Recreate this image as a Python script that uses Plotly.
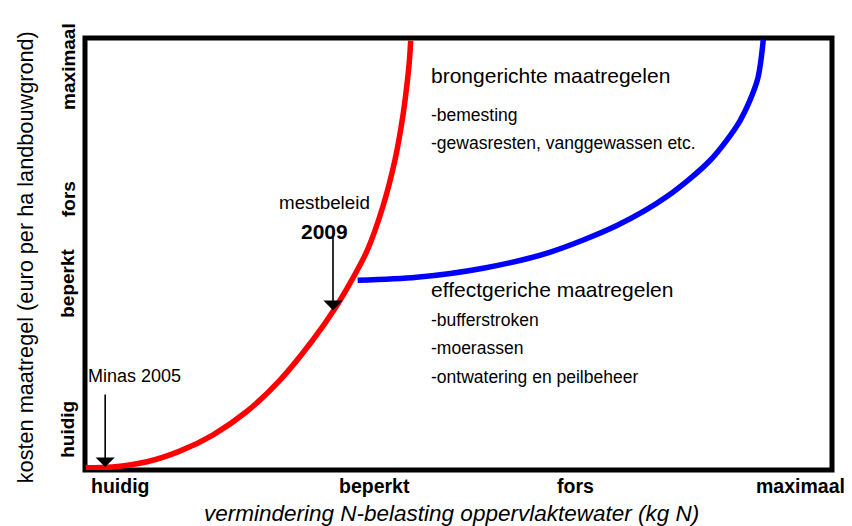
import plotly.graph_objects as go

# Curves (data units: x 0-100 = reduction of N load, y 0-100 = cost)
red_x = [0.1, 3.7, 8.3, 12.6, 17.1, 21.7, 26.1, 30.5, 33.5, 35.5, 37.8, 39.9, 41.5, 42.3, 42.8, 43.4, 43.6]
red_y = [0.5, 0.7, 1.9, 4.3, 8.1, 13.6, 20.8, 30.1, 37.5, 43.3, 50.9, 61.1, 71.8, 79.2, 85.0, 94.2, 99.4]
blue_x = [36.5, 44.4, 53.3, 62.2, 71.2, 77.9, 83.7, 87.7, 90.0, 90.8]
blue_y = [43.9, 44.6, 46.7, 50.4, 56.6, 63.3, 71.7, 80.9, 90.2, 99.6]

x_tick_labels = ["huidig", "beperkt", "fors", "maximaal"]
x_tick_pos = [4.7, 38.8, 65.7, 102.0]
y_tick_labels = ["huidig", "beperkt", "fors", "maximaal"]
y_tick_pos = [9.5, 43.3, 62.7, 93.5]

x_title = "vermindering N-belasting oppervlaktewater (kg N)"
y_title = "kosten maatregel (euro per ha landbouwgrond)"

bron_title = "brongerichte maatregelen"
bron_items = ["-bemesting", "-gewasresten, vanggewassen etc."]
bron_y = [91.4, 82.2, 75.7]
effect_title = "effectgeriche maatregelen"
effect_items = ["-bufferstroken", "-moerassen", "-ontwatering en peilbeheer"]
effect_y = [41.7, 34.7, 28.2, 21.5]
text_left = 46.1

FONT = "Arial, Liberation Sans, sans-serif"

fig = go.Figure()
fig.add_trace(go.Scatter(x=red_x, y=red_y, mode="lines",
                         line=dict(color="#ff0000", width=5.5, shape="spline", smoothing=0.9),
                         hoverinfo="skip", showlegend=False))
fig.add_trace(go.Scatter(x=blue_x, y=blue_y, mode="lines",
                         line=dict(color="#0000ff", width=5.5, shape="spline", smoothing=0.8),
                         hoverinfo="skip", showlegend=False))


def P(v):
    return v / 100.0


ann = []
for i, (lab, p) in enumerate(zip(x_tick_labels, x_tick_pos)):
    ann.append(dict(x=P(p), y=P(-3.7), xref="paper", yref="paper", text=f"<b>{lab}</b>", showarrow=False,
                    xanchor="right" if i == len(x_tick_labels) - 1 else "center", yanchor="middle",
                    font=dict(size=19.5, color="black", family=FONT)))
for lab, p in zip(y_tick_labels, y_tick_pos):
    ann.append(dict(x=P(-2.3), y=P(p), xref="paper", yref="paper", text=f"<b>{lab}</b>", showarrow=False,
                    textangle=-90, xanchor="center", yanchor="middle",
                    font=dict(size=19, color="black", family=FONT)))
ann.append(dict(x=P(49.0), y=P(-10.0), xref="paper", yref="paper", text=f"<i>{x_title}</i>", showarrow=False,
                xanchor="center", yanchor="middle", font=dict(size=22.5, color="black", family=FONT)))
ann.append(dict(x=P(-8.0), y=P(49.3), xref="paper", yref="paper", text=y_title, showarrow=False, textangle=-90,
                xanchor="center", yanchor="middle", font=dict(size=21.7, color="black", family=FONT)))

ann.append(dict(x=text_left, y=bron_y[0], text=bron_title, showarrow=False, xanchor="left", yanchor="middle",
                font=dict(size=21, color="black", family=FONT)))
for t, yy in zip(bron_items, bron_y[1:]):
    ann.append(dict(x=text_left, y=yy, text=t, showarrow=False, xanchor="left", yanchor="middle",
                    font=dict(size=17.5, color="black", family=FONT)))
ann.append(dict(x=text_left, y=effect_y[0], text=effect_title, showarrow=False, xanchor="left", yanchor="middle",
                font=dict(size=21, color="black", family=FONT)))
for t, yy in zip(effect_items, effect_y[1:]):
    ann.append(dict(x=text_left, y=yy, text=t, showarrow=False, xanchor="left", yanchor="middle",
                    font=dict(size=17.5, color="black", family=FONT)))

ann.append(dict(x=32.0, y=62.0, text="mestbeleid", showarrow=False, xanchor="center", yanchor="middle",
                font=dict(size=18.8, color="black", family=FONT)))
ann.append(dict(x=32.1, y=55.1, text="<b>2009</b>", showarrow=False, xanchor="center", yanchor="middle",
                font=dict(size=21, color="black", family=FONT)))
ann.append(dict(x=6.6, y=21.8, text="Minas 2005", showarrow=False, xanchor="center", yanchor="middle",
                font=dict(size=18, color="black", family=FONT)))

# arrows
ann.append(dict(x=33.2, y=37.0, ax=33.2, ay=54.4, axref="x", ayref="y", text="", showarrow=True,
                arrowhead=1, arrowsize=2, arrowwidth=1.6, arrowcolor="black", standoff=0))
ann.append(dict(x=2.7, y=0.7, ax=2.7, ay=17.8, axref="x", ayref="y", text="", showarrow=True,
                arrowhead=1, arrowsize=2, arrowwidth=1.6, arrowcolor="black", standoff=0))

fig.update_layout(
    width=852, height=526,
    margin=dict(l=85, r=20, t=38, b=56),
    paper_bgcolor="white", plot_bgcolor="white",
    xaxis=dict(range=[0, 100], visible=False, fixedrange=True),
    yaxis=dict(range=[0, 100], visible=False, fixedrange=True),
    annotations=ann,
    shapes=[dict(type="rect", xref="paper", yref="paper", x0=0, x1=1, y0=0, y1=1,
                 line=dict(color="black", width=5), layer="below")],
    showlegend=False,
)

fig.write_html("out.html", config={"displayModeBar": False},
               post_script="document.body.style.margin='0';document.body.style.overflow='hidden';")
